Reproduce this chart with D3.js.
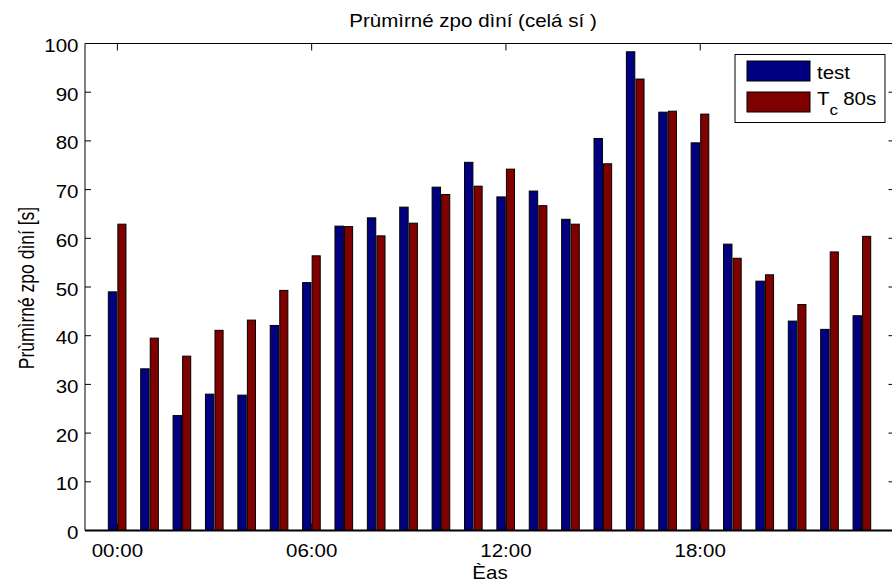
<!DOCTYPE html>
<html>
<head>
<meta charset="utf-8">
<script src="https://cdn.jsdelivr.net/npm/d3@7"></script>
<style>
  body { margin: 0; background: #fff; }
  text { font-family: "Liberation Sans", Arial, sans-serif; fill: #000; }
</style>
</head>
<body>
<div id="chart"></div>
<script>
// hours of the day, one group of two bars each
const hours = d3.range(0, 24);
const testValues = [49.0, 33.2, 23.6, 28.0, 27.8, 42.1, 50.9, 62.5, 64.2, 66.4, 70.5, 75.6,
                    68.5, 69.7, 63.9, 80.5, 98.3, 85.9, 79.6, 58.8, 51.2, 43.0, 41.3, 44.1];
const tcValues   = [62.9, 39.5, 35.8, 41.1, 43.2, 49.3, 56.4, 62.4, 60.5, 63.1, 69.0, 70.7,
                    74.2, 66.7, 62.9, 75.3, 92.7, 86.1, 85.5, 55.9, 52.5, 46.4, 57.2, 60.4];
const seriesNames = ["test", "T", "c", "80s"];
const yTicks = d3.range(0, 101, 10);
const xTickHours = [0, 6, 12, 18];
const xTickLabels = ["00:00", "06:00", "12:00", "18:00"];

const W = 892, H = 588;
const pLeft = 85, pRight = 894.5, pTop = 43.5, pBottom = 530.5;
const sx = 1.14; // the picture is stretched horizontally

const svg = d3.select("#chart").append("svg")
  .attr("width", W).attr("height", H);

const x = d3.scaleLinear().domain([-1, 24]).range([pLeft, pRight]);
const y = d3.scaleLinear().domain([0, 100]).range([pBottom, pTop]);
const u = x(1) - x(0);

// stretched text helper
function label(g, str, px, py, anchor, size, rot, k) {
  const t = g.append("g")
    .attr("transform", `translate(${px},${py}) scale(${k || sx},1)` + (rot ? ` rotate(${rot})` : ""))
    .append("text")
    .attr("text-anchor", anchor)
    .style("font-size", size + "px")
    .text(str);
  return t;
}

// bars
const bars = svg.append("g");
bars.selectAll("rect.test")
  .data(hours)
  .join("rect")
    .attr("class", "test")
    .attr("x", d => x(d) - 0.28 * u)
    .attr("width", 0.26 * u)
    .attr("y", d => y(testValues[d]))
    .attr("height", d => y(0) - y(testValues[d]))
    .attr("fill", "#000080")
    .attr("stroke", "#000")
    .attr("stroke-width", 1);

bars.selectAll("rect.tc")
  .data(hours)
  .join("rect")
    .attr("class", "tc")
    .attr("x", d => x(d) + 0.015 * u)
    .attr("width", 0.25 * u)
    .attr("y", d => y(tcValues[d]))
    .attr("height", d => y(0) - y(tcValues[d]))
    .attr("fill", "#800000")
    .attr("stroke", "#000")
    .attr("stroke-width", 1);

// axes box
const ax = svg.append("g").attr("stroke", "#000").attr("fill", "none");
ax.append("line").attr("x1", pLeft).attr("x2", pRight).attr("y1", pTop).attr("y2", pTop);
ax.append("line").attr("x1", pLeft).attr("x2", pRight).attr("y1", pBottom).attr("y2", pBottom).attr("stroke-width", 2);
ax.append("line").attr("x1", pLeft).attr("x2", pLeft).attr("y1", pTop).attr("y2", pBottom);
ax.append("line").attr("x1", pRight).attr("x2", pRight).attr("y1", pTop).attr("y2", pBottom);

// y ticks, inward on both sides
ax.selectAll("line.yl").data(yTicks).join("line")
  .attr("class", "yl")
  .attr("x1", pLeft).attr("x2", pLeft + 6)
  .attr("y1", d => y(d)).attr("y2", d => y(d));
ax.selectAll("line.yr").data(yTicks).join("line")
  .attr("class", "yr")
  .attr("x1", pRight).attr("x2", pRight - 6)
  .attr("y1", d => y(d)).attr("y2", d => y(d));

// x ticks, inward at top and bottom
ax.selectAll("line.xt").data(xTickHours).join("line")
  .attr("class", "xt")
  .attr("x1", d => x(d)).attr("x2", d => x(d))
  .attr("y1", pTop).attr("y2", pTop + 7);
ax.selectAll("line.xb").data(xTickHours).join("line")
  .attr("class", "xb")
  .attr("x1", d => x(d)).attr("x2", d => x(d))
  .attr("y1", pBottom).attr("y2", pBottom - 7);

// tick labels
const tl = svg.append("g");
yTicks.forEach(v => label(tl, v, 78.5, y(v) + 8.5, "end", 18));
xTickHours.forEach((h, i) => label(tl, xTickLabels[i], x(h), 557, "middle", 18));

// titles
label(svg, "Prùmìrné zpo dìní (celá sí )", 473, 26.5, "middle", 18);
label(svg, "Èas", 490, 579, "middle", 18);
label(svg, "Prùmìrné zpo dìní [s]", 33.5, 288, "middle", 17.5, -90, 1.25);

// legend
const lg = svg.append("g");
lg.append("rect").attr("x", 735).attr("y", 54.5).attr("width", 150).attr("height", 68)
  .attr("fill", "#fff").attr("stroke", "#000");
lg.append("rect").attr("x", 747).attr("y", 61).attr("width", 63).attr("height", 20)
  .attr("fill", "#000080").attr("stroke", "#000");
lg.append("rect").attr("x", 747).attr("y", 92).attr("width", 63).attr("height", 20)
  .attr("fill", "#800000").attr("stroke", "#000");
label(lg, seriesNames[0], 817, 79, "start", 18);
const t2 = label(lg, seriesNames[1], 817, 105, "start", 18);
t2.append("tspan").attr("dy", 10).style("font-size", "15px").text(seriesNames[2]);
t2.append("tspan").attr("x", 23).attr("dy", -10).text(seriesNames[3]);
</script>
</body>
</html>
